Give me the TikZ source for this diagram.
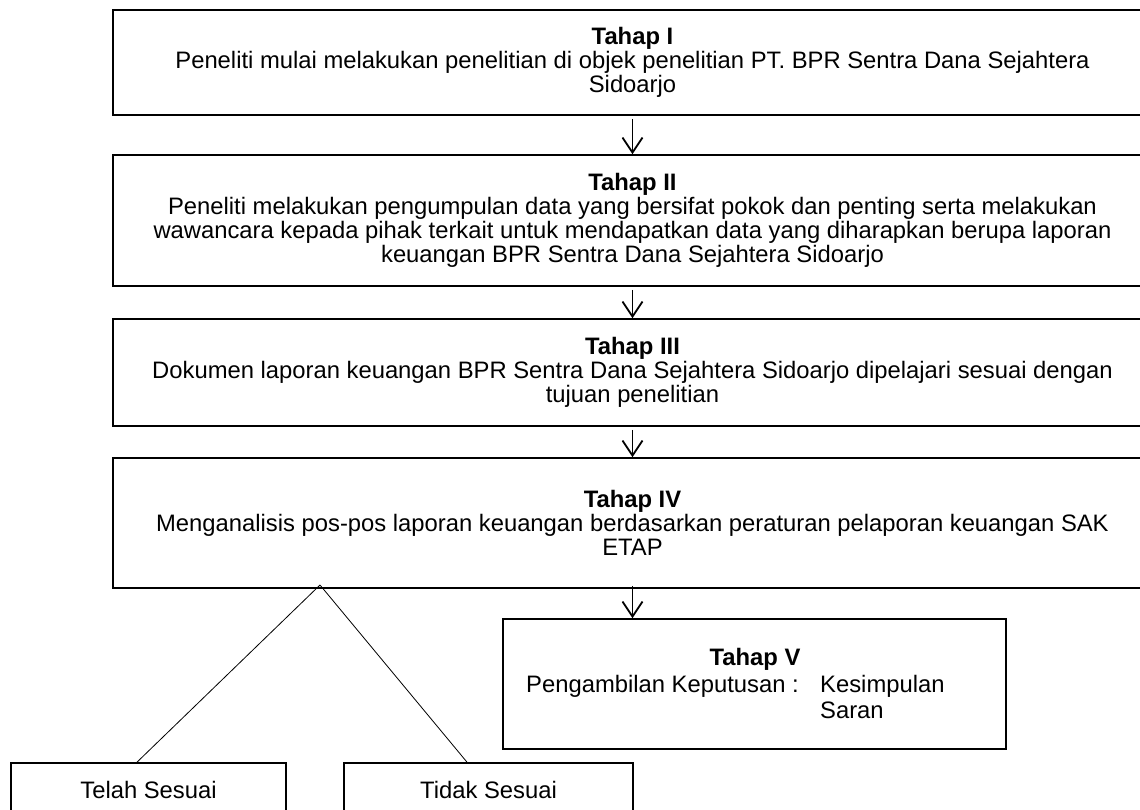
\documentclass[tikz,border=0pt]{standalone}
\usepackage{fontspec}
\setmainfont{Liberation Sans}
\usetikzlibrary{arrows.meta}
\begin{document}
\begin{tikzpicture}[x=1pt,y=-1pt,
  stage/.style={draw, line width=1.7pt, rectangle, minimum width=1039pt, align=center, inner sep=0pt, font=\fontsize{23.8}{24}\selectfont},
  smallbox/.style={draw, line width=1.7pt, rectangle, inner sep=0pt, font=\fontsize{23.8}{24}\selectfont},
  txt/.style={inner sep=0pt, font=\fontsize{23.8}{24}\selectfont},
  flow/.style={line width=1.8pt, -{Straight Barb[length=15pt,width=20pt,line width=1.8pt]}},
  thin/.style={line width=0.8pt}
]
\useasboundingbox (0,0) rectangle (1140,809);
\clip (0,0) rectangle (1140,809);

\node[stage, minimum height=105pt] (s1) at (632.5,62.5)
  {\textbf{Tahap I}\\Peneliti mulai melakukan penelitian di objek penelitian PT. BPR Sentra Dana Sejahtera\\Sidoarjo};
\node[stage, minimum height=131pt] (s2) at (632.5,220.5)
  {\textbf{Tahap II}\\Peneliti melakukan pengumpulan data yang bersifat pokok dan penting serta melakukan\\wawancara kepada pihak terkait untuk mendapatkan data yang diharapkan berupa laporan\\keuangan BPR Sentra Dana Sejahtera Sidoarjo};
\node[stage, minimum height=107pt] (s3) at (632.5,372.5)
  {\textbf{Tahap III}\\Dokumen laporan keuangan BPR Sentra Dana Sejahtera Sidoarjo dipelajari sesuai dengan\\tujuan penelitian};
\node[stage, minimum height=130pt] (s4) at (632.5,523)
  {\textbf{Tahap IV}\\Menganalisis pos-pos laporan keuangan berdasarkan peraturan pelaporan keuangan SAK\\ETAP};

\node[smallbox, minimum width=503pt, minimum height=130pt] (s5) at (754.5,684) {};
\node[txt, anchor=base] (t5) at (755,665) {\textbf{Tahap V}};
\node[txt, anchor=base west] (pk) at (526,692) {Pengambilan Keputusan :};
\node[txt, anchor=base west] (ks) at (820,692) {Kesimpulan};
\node[txt, anchor=base west] (sr) at (820,718) {Saran};

\node[smallbox, minimum width=275pt, minimum height=54pt] (ok) at (148.5,790) {Telah Sesuai};
\node[smallbox, minimum width=289pt, minimum height=54pt] (no) at (488.5,790) {Tidak Sesuai};

\draw[flow] ([yshift=-3pt]s1.south) -- (s2.north);
\draw[flow] ([yshift=-3pt]s2.south) -- (s3.north);
\draw[flow] ([yshift=-3pt]s3.south) -- (s4.north);
\draw[flow] ([yshift=3pt]s4.south) -- (s4.south |- s5.north);

\coordinate (apex) at (320,585);
\draw[thin] (apex) -- ([xshift=-11.5pt]ok.north);
\draw[thin] (apex) -- ([xshift=-21.5pt]no.north);
\end{tikzpicture}
\end{document}
